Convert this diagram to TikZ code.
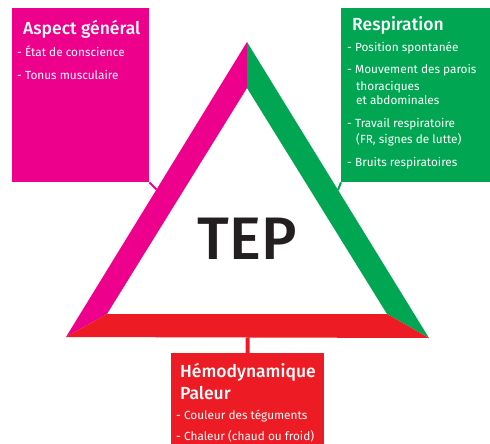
\documentclass[tikz,border=0pt]{standalone}
\usepackage{fontspec}
\setmainfont{Fira Sans}
\newfontfamily\tepmedium{Fira Sans Medium}
\usetikzlibrary{positioning,calc}
\definecolor{tepmagenta}{HTML}{EC008C}
\definecolor{tepgreen}{HTML}{00A651}
\definecolor{tepred}{HTML}{ED1C24}
\definecolor{tepdark}{HTML}{231F20}

\begin{document}
\begin{tikzpicture}[x=1pt,y=-1pt,
  box/.style={fill=#1, draw=none, inner sep=0pt, anchor=north west},
  boxtitle/.style={text=white, inner sep=0pt, anchor=base west,
    font=\tepmedium\fontsize{17.5}{20}\selectfont},
  item/.style={text=white, inner sep=0pt, anchor=base west,
    font=\fontsize{11.8}{14}\selectfont},
  link/.style={draw=#1, line width=2pt}
  ]
  \useasboundingbox (0,0) rectangle (490,444);

  % triangle, outer and inner corners
  \coordinate (top) at (247,42);
  \coordinate (left) at (66,337);
  \coordinate (right) at (429,338);
  \coordinate (itop) at (247,88);
  \coordinate (ileft) at (107,314);
  \coordinate (iright) at (387,314);
  \fill[tepmagenta] (top) -- (left) -- (ileft) -- (itop) -- cycle;
  \fill[tepgreen] (top) -- (right) -- (iright) -- (itop) -- cycle;
  \fill[tepred] (left) -- (right) -- (iright) -- (ileft) -- cycle;

  \node[font=\tepmedium\fontsize{60}{60}\selectfont, text=tepdark] (tep) at (247,239) {TEP};

  % boxes
  \node[box=tepmagenta, minimum width=137pt, minimum height=174pt] (aspect) at (12,8) {};
  \node[box=tepgreen, minimum width=149pt, minimum height=174pt] (resp) at (341,8) {};
  \node[box=tepred, minimum width=153pt, minimum height=91pt] (hemo) at (171,353) {};

  % links to the triangle
  \coordinate (aspect link) at ($(top)!0.5!(left)$);
  \coordinate (resp link) at ($(top)!0.5!(right)$);
  \coordinate (hemo link) at ($(left)!0.5!(right)$);
  \draw[link=tepmagenta] (aspect.south east) -- (aspect link);
  \draw[link=tepgreen] (resp.south west) -- (resp link);
  \draw[link=tepred, line width=4pt] (hemo.north) -- (hemo link);

  % texts
  \node[boxtitle] (aspect title) at (23,35) {Aspect général};
  \foreach \y/\t [count=\i] in {57/- État de conscience, 79/- Tonus musculaire}
    \node[item] (aspect item-\i) at (17,\y) {\t};

  \node[boxtitle] (resp title) at (352,31) {Respiration};
  \foreach \x/\y/\t [count=\i] in {347/52/- Position spontanée,
      347/74/- Mouvement des parois, 356/90/thoraciques, 356/104/et abdominales,
      347/127/- Travail respiratoire, 356/143/{(FR, signes de lutte)},
      347/166/- Bruits respiratoires}
    \node[item] (resp item-\i) at (\x,\y) {\t};

  \node[boxtitle] (hemo title) at (180,377) {Hémodynamique};
  \node[boxtitle] (hemo title2) at (180,399) {Paleur};
  \foreach \y/\t [count=\i] in {419/- Couleur des téguments, 440/{- Chaleur (chaud ou froid)}}
    \node[item] (hemo item-\i) at (176,\y) {\t};
\end{tikzpicture}
\end{document}
